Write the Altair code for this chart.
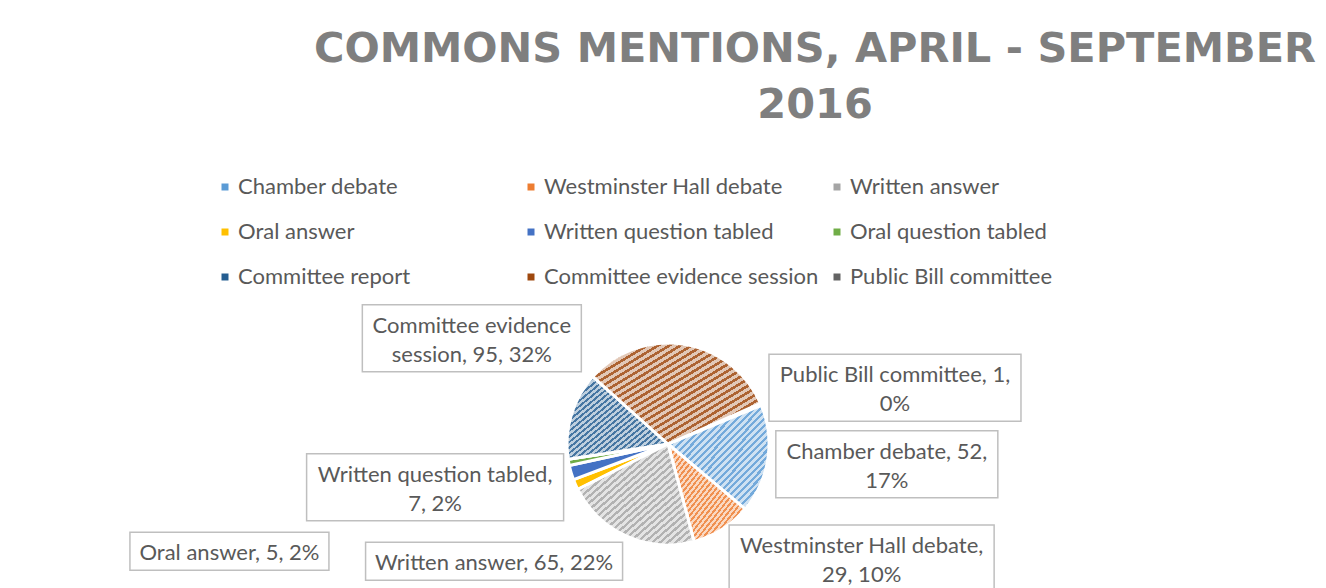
import math
import textwrap
import altair as alt
import pandas as pd

# ---------------- data ----------------
CATEGORIES = [
    "Chamber debate", "Westminster Hall debate", "Written answer", "Oral answer",
    "Written question tabled", "Oral question tabled", "Committee report",
    "Committee evidence session", "Public Bill committee",
]
VALUES = [52, 29, 65, 5, 7, 3, 42, 95, 1]
COLORS = ["#5B9BD5", "#ED7D31", "#A5A5A5", "#FFC000", "#4472C4",
          "#70AD47", "#255E91", "#9E480E", "#636363"]
LABELLED = [True, True, True, True, True, False, False, True, True]
TITLE_LINES = ["COMMONS MENTIONS, APRIL - SEPTEMBER", "2016"]

# ---------------- style / layout ----------------
CX, CY, R = 660, 436, 100          # pie centre and radius (px, plot coords)
START = math.radians(67.5)         # angle of first slice
TOTAL = sum(VALUES)
WRAP = {"Chamber debate": 20, "Westminster Hall debate": 25, "Written answer": 30,
        "Oral answer": 30, "Written question tabled": 24,
        "Committee evidence session": 20, "Public Bill committee": 25}
BOX_W = {"Chamber debate": 222, "Westminster Hall debate": 265, "Written answer": 257,
         "Oral answer": 199, "Written question tabled": 257,
         "Committee evidence session": 219, "Public Bill committee": 252}
NUDGE_X = {"Chamber debate": 120, "Westminster Hall debate": 140, "Written answer": -133,
           "Oral answer": -347, "Written question tabled": -137,
           "Committee evidence session": -212, "Public Bill committee": 135}
NUDGE_Y = {"Chamber debate": 5, "Westminster Hall debate": 30, "Written answer": 26,
           "Oral answer": 67, "Written question tabled": 15,
           "Committee evidence session": -7, "Public Bill committee": -17}
LINE_H = 29
FONT = "Lato"
FONT_SIZE = 22
TEXT_COLOR = "#595959"


def pick(d):
    parts = [f"datum.cat === '{k}' ? {v}" for k, v in d.items()]
    return " : ".join(parts) + " : 0"


def lighten(hexc, f):
    h = hexc.lstrip("#")
    r, g, b = (int(h[i:i + 2], 16) for i in (0, 2, 4))
    r, g, b = (round(c + (255 - c) * f) for c in (r, g, b))
    return f"#{r:02x}{g:02x}{b:02x}"


def stripes(hexc, n=30, dark_share=0.45):
    dark, light = lighten(hexc, 0.15), lighten(hexc, 0.7)
    stops = []
    for k in range(n):
        a, b, c = k / n, (k + dark_share) / n, (k + 1) / n
        stops += [alt.GradientStop(offset=a, color=dark), alt.GradientStop(offset=b, color=dark),
                  alt.GradientStop(offset=b, color=light), alt.GradientStop(offset=c, color=light)]
    return alt.Gradient(gradient="linear", stops=stops, x1=0, y1=0, x2=1, y2=1)


labels, nlines = [], []
for cat, v in zip(CATEGORIES, VALUES):
    txt = f"{cat}, {v}, {round(100 * v / TOTAL)}%"
    lines = textwrap.wrap(txt, WRAP.get(cat, 30))
    labels.append("\n".join(lines))
    nlines.append(len(lines))

df = pd.DataFrame({"cat": CATEGORIES, "value": VALUES, "order": range(len(VALUES)),
                   "label": labels, "nlines": nlines, "labelled": LABELLED})

theta_scale = alt.Scale(domain=[0, TOTAL], range=[START, START + 2 * math.pi])

base = alt.Chart(df).transform_window(
    cum="sum(value)", sort=[alt.SortField("order")], frame=[None, 0]
).transform_calculate(
    start="datum.cum - datum.value",
    mid=f"{START} + 2 * PI * (datum.cum - datum.value / 2) / {TOTAL}",
)

arc_props = dict(outerRadius=R + 1, stroke="white", strokeWidth=3)

pie = alt.Chart(df).mark_arc(**arc_props).encode(
    x=alt.value(CX), y=alt.value(CY),
    theta=alt.Theta("value:Q", stack=True, scale=theta_scale),
    order=alt.Order("order:Q"),
    color=alt.Color(
        "cat:N",
        scale=alt.Scale(domain=CATEGORIES, range=COLORS),
        legend=alt.Legend(
            orient="none", legendX=206, legendY=168, direction="horizontal",
            columns=3, gridAlign="all", title=None, symbolType="square",
            symbolSize=49, symbolStrokeWidth=0, labelFont=FONT, labelFontSize=FONT_SIZE,
            labelColor=TEXT_COLOR, labelOffset=2, columnPadding=7, rowPadding=23,
            labelLimit=400,
        ),
    ),
)

layers = [pie]
for cat, v, col in zip(CATEGORIES, VALUES, COLORS):
    if v < 20:
        continue
    layers.append(
        base.transform_filter(alt.datum.cat == cat).mark_arc(fill=stripes(col), **arc_props).encode(
            x=alt.value(CX), y=alt.value(CY),
            theta=alt.Theta("start:Q", scale=theta_scale), theta2="cum:Q",
        )
    )

lab = base.transform_filter("datum.labelled").transform_calculate(
    lx=f"{CX} + {R} * sin(datum.mid) + ({pick(NUDGE_X)})",
    ly=f"{CY} - {R} * cos(datum.mid) + ({pick(NUDGE_Y)})",
    bw=pick(BOX_W),
).transform_calculate(
    bh=f"9 + {LINE_H} * datum.nlines",
    ty=f"datum.ly - (datum.nlines - 1) * {LINE_H} / 2 + 2",
).transform_calculate(
    bx0="datum.lx - datum.bw / 2", bx1="datum.lx + datum.bw / 2",
    by0="datum.ly - datum.bh / 2", by1="datum.ly + datum.bh / 2",
)

boxes = lab.mark_rect(fill="white", stroke="#BFBFBF", strokeWidth=1.5).encode(
    x=alt.X("bx0:Q", scale=None, axis=None), x2="bx1:Q",
    y=alt.Y("by0:Q", scale=None, axis=None), y2="by1:Q",
)
texts = lab.mark_text(font=FONT, fontSize=FONT_SIZE, color=TEXT_COLOR, lineBreak="\n",
                      lineHeight=LINE_H, align="center", baseline="middle").encode(
    x=alt.X("lx:Q", scale=None, axis=None),
    y=alt.Y("ty:Q", scale=None, axis=None),
    text="label:N",
)

layers += [boxes, texts]

chart = alt.layer(*layers).properties(
    width=1310, height=580, padding=0, autosize="none",
    title=alt.Title(TITLE_LINES, font="DejaVu Sans", fontSize=41.5, fontWeight="bold",
                    color="#7F7F7F", lineHeight=56, anchor="middle", orient="top",
                    dx=152, offset=-118),
).configure_view(stroke=None)

chart.save("out.html", embed_options={"renderer": "svg", "actions": False})
